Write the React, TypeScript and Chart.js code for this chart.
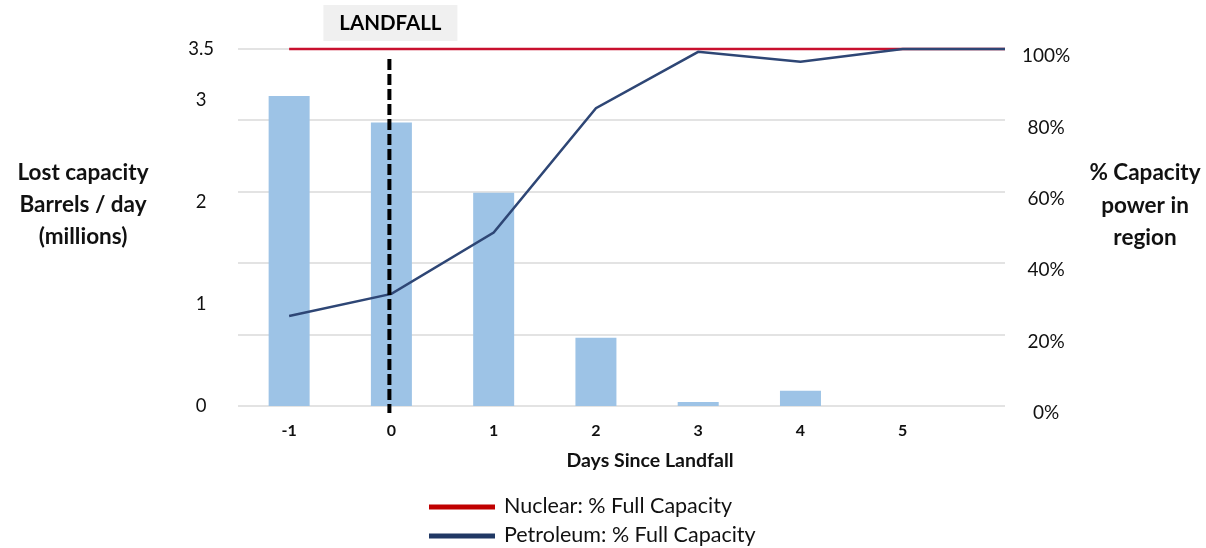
import { useEffect, useRef } from "react";
import { Chart, registerables } from "chart.js";

Chart.register(...registerables);

// Lost refining capacity (millions of barrels / day) per day relative to landfall
const days = [-1, 0, 1, 2, 3, 4, 5];
const lostCapacity = [3.04, 2.78, 2.09, 0.67, 0.04, 0.15, 0];

// Share of full capacity still online (%), per day relative to landfall
const lineDays = [-1, 0, 1, 2, 3, 4, 5, 6];
const petroleumPct = [25.2, 31.4, 48.6, 83.4, 99.2, 96.4, 100, 100];
const nuclearPct = [100, 100, 100, 100, 100, 100, 100, 100];

// Axis ticks
const xTicks = [-1, 0, 1, 2, 3, 4, 5];
const leftTicks = [0, 1, 2, 3, 3.5];
const rightTicks = [0, 20, 40, 60, 80, 100];

// Labels
const landfallDay = 0;
const markerLabel = "LANDFALL";
const leftTitle = ["Lost capacity", "Barrels / day", "(millions)"];
const rightTitle = ["% Capacity", "power in", "region"];
const xTitle = "Days Since Landfall";
const seriesLabels = ["Nuclear: % Full Capacity", "Petroleum: % Full Capacity", "Lost capacity"];

const FONT = "Lato, 'Open Sans', sans-serif";
const TEXT = "#111111";
const RED = "#C8102E";
const NAVY = "#2E4675";
const NAVY_KEY = "#203864";
const BAR = "#9DC3E6";

const overlay = {
  id: "overlay",
  afterDatasetsDraw(chart: any) {
    const { ctx, chartArea, scales } = chart;
    const x = scales.x.getPixelForValue(landfallDay) - 2;
    ctx.save();
    ctx.strokeStyle = "#000000";
    ctx.lineWidth = 4;
    ctx.setLineDash([11, 4]);
    ctx.beginPath();
    ctx.moveTo(x, chartArea.top + 10);
    ctx.lineTo(x, chartArea.bottom + 7);
    ctx.stroke();
    ctx.restore();
  },
  afterDraw(chart: any) {
    const { ctx, scales } = chart;
    ctx.save();
    ctx.textBaseline = "middle";

    // landfall tag above the dashed marker
    const mx = scales.x.getPixelForValue(landfallDay) - 1;
    ctx.fillStyle = "#F0F0F0";
    ctx.fillRect(mx - 67, 5, 134, 36);
    ctx.fillStyle = "#000000";
    ctx.font = `bold 20.5px ${FONT}`;
    ctx.textAlign = "center";
    ctx.fillText(markerLabel, mx, 23);

    // axis titles
    ctx.fillStyle = TEXT;
    ctx.font = `bold 22.5px ${FONT}`;
    const leftY = [173, 205, 237];
    leftTitle.forEach((t, i) => ctx.fillText(t, 83, leftY[i]));
    const rightY = [173, 206, 238];
    rightTitle.forEach((t, i) => ctx.fillText(t, 1145, rightY[i]));
    ctx.font = `bold 19.5px ${FONT}`;
    ctx.fillText(xTitle, 650, 461);

    // legend
    const keys = [
      { label: seriesLabels[0], color: "#C00000", y: 507 },
      { label: seriesLabels[1], color: NAVY_KEY, y: 536 },
    ];
    ctx.textAlign = "left";
    ctx.font = `21.5px ${FONT}`;
    keys.forEach((k) => {
      ctx.strokeStyle = k.color;
      ctx.lineWidth = 5;
      ctx.beginPath();
      ctx.moveTo(429, k.y);
      ctx.lineTo(495, k.y);
      ctx.stroke();
      ctx.fillStyle = TEXT;
      ctx.fillText(k.label, 504, k.y - 1);
    });
    ctx.restore();
  },
};

export default function App() {
  const ref = useRef<HTMLCanvasElement | null>(null);

  useEffect(() => {
    if (!ref.current) return;
    const chart = new Chart(ref.current, {
      data: {
        datasets: [
          {
            type: "line",
            label: seriesLabels[1],
            data: lineDays.map((d, i) => ({ x: d, y: petroleumPct[i] })),
            yAxisID: "y1",
            borderColor: NAVY,
            borderWidth: 2.5,
            pointRadius: 0,
            tension: 0,
            clip: false,
            order: 0,
          },
          {
            type: "line",
            label: seriesLabels[0],
            data: lineDays.map((d, i) => ({ x: d, y: nuclearPct[i] })),
            yAxisID: "y1",
            borderColor: RED,
            borderWidth: 2.5,
            pointRadius: 0,
            tension: 0,
            clip: false,
            order: 1,
          },
          {
            type: "bar",
            label: seriesLabels[2],
            data: days.map((d, i) => ({ x: d, y: lostCapacity[i] })),
            yAxisID: "y",
            backgroundColor: BAR,
            borderWidth: 0,
            inflateAmount: 0,
            barThickness: 41,
            order: 2,
          },
        ],
      } as any,
      options: {
        animation: false,
        responsive: false,
        maintainAspectRatio: false,
        layout: { padding: { top: 49, left: 0, right: 0, bottom: 0 } },
        plugins: { legend: { display: false }, tooltip: { enabled: false } },
        scales: {
          x: {
            type: "linear",
            offset: false,
            min: -1.5,
            max: 6,
            grid: { display: false, offset: false, drawTicks: false },
            border: { display: false },
            afterBuildTicks: (s: any) => {
              s.ticks = xTicks.map((v) => ({ value: v }));
            },
            afterFit: (s: any) => {
              s.height = 142;
            },
            ticks: {
              padding: 15,
              color: TEXT,
              font: { family: FONT, size: 16, weight: "bold" },
              callback: (v: any) => String(v),
            },
          },
          y: {
            type: "linear",
            position: "left",
            min: 0,
            max: 3.5,
            grid: { display: false, drawTicks: false },
            border: { display: false },
            afterBuildTicks: (s: any) => {
              s.ticks = leftTicks.map((v) => ({ value: v }));
            },
            afterFit: (s: any) => {
              s.width = 238;
            },
            ticks: {
              padding: 24,
              crossAlign: "center",
              color: TEXT,
              font: { family: FONT, size: 18.5 },
              callback: (v: any) => String(v),
            },
          },
          y1: {
            type: "linear",
            position: "right",
            min: 0,
            max: 100,
            grid: { color: "#E3E3E3", lineWidth: 2, drawTicks: false },
            border: { display: false },
            afterBuildTicks: (s: any) => {
              s.ticks = rightTicks.map((v) => ({ value: v }));
            },
            afterFit: (s: any) => {
              s.width = 201;
            },
            ticks: {
              padding: 17,
              labelOffset: 7,
              crossAlign: "center",
              color: TEXT,
              font: { family: FONT, size: 19 },
              callback: (v: any) => `${v}%`,
            },
          },
        },
      } as any,
      plugins: [overlay],
    });
    return () => chart.destroy();
  }, []);

  return (
    <div style={{ position: "absolute", left: 0, top: 0, width: 1206, height: 548, background: "#ffffff" }}>
      <canvas ref={ref} width={1206} height={548} style={{ width: 1206, height: 548, display: "block" }} />
    </div>
  );
}
